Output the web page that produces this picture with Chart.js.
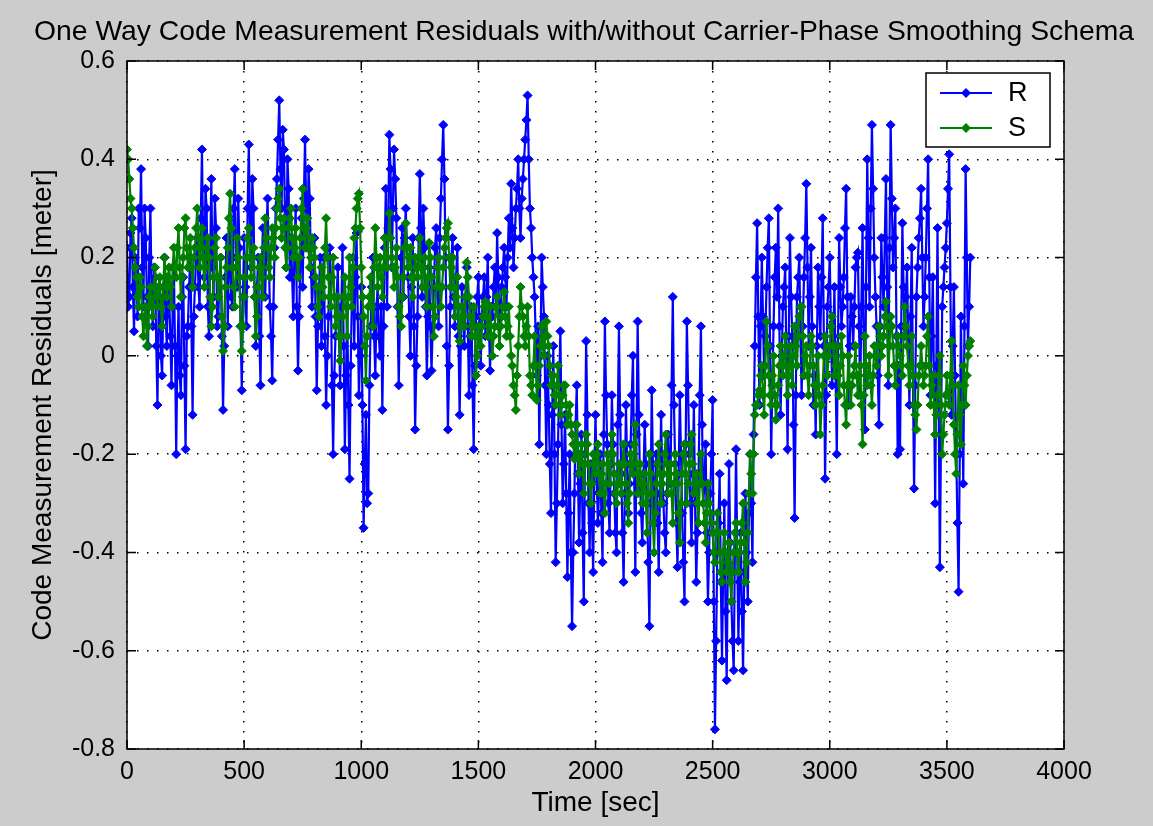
<!DOCTYPE html>
<html>
<head>
<meta charset="utf-8">
<script src="https://cdn.jsdelivr.net/npm/chart.js@4/dist/chart.umd.min.js"></script>
<style>
  html, body { margin: 0; padding: 0; background: #cccccc; }
  canvas { display: block; }
</style>
</head>
<body>
<canvas id="myChart" width="1153" height="826"></canvas>
<script>
// sampling step of both series, seconds
var step = 10;

// R: raw code residuals, one value every 10 s from t = 0
var rValues = [
  0.22, 0.12, 0.28, 0.05, 0.18, 0.30, 0.38, 0.10, 0.24, 0.02,
  0.30, 0.06, 0.16, -0.10, 0.14, -0.04, 0.20, 0.02, 0.12, -0.06,
  0.18, -0.20, 0.10, -0.08, 0.16, -0.19, 0.06, 0.20, -0.12, 0.14,
  0.24, 0.10, 0.42, 0.16, 0.30, 0.04, 0.36, 0.12, 0.26, 0.08,
  0.20, -0.11, 0.16, 0.06, 0.28, 0.10, 0.38, 0.14, 0.22, -0.07,
  0.24, 0.06, 0.43, 0.18, 0.30, 0.02, 0.20, -0.06, 0.26, 0.12,
  0.32, 0.10, -0.05, 0.22, 0.36, 0.52, 0.30, 0.42, 0.18, 0.34,
  0.24, 0.08, 0.30, -0.03, 0.20, 0.14, 0.44, 0.22, 0.32, 0.10,
  0.24, -0.07, 0.14, 0.02, 0.20, -0.10, 0.08, 0.16, -0.20, 0.04,
  0.18, -0.06, 0.22, -0.19, 0.10, -0.25, 0.12, 0.02, 0.25, -0.08,
  0.14, -0.35, -0.12, -0.28, 0.06, 0.20, -0.04, 0.14, 0.00, -0.11,
  0.22, 0.10, 0.45, 0.18, 0.42, 0.28, -0.06, 0.20, 0.12, 0.30,
  0.16, 0.00, 0.24, -0.15, 0.08, 0.37, 0.12, 0.22, -0.04, 0.18,
  -0.03, 0.14, 0.26, 0.06, 0.32, 0.47, 0.20, -0.15, 0.10, 0.24,
  0.06, 0.22, -0.12, 0.14, 0.02, 0.18, -0.08, 0.10, -0.19, 0.08,
  0.16, -0.02, 0.12, 0.04, 0.20, -0.03, 0.08, 0.18, 0.25, 0.06,
  0.14, 0.22, 0.10, 0.28, 0.35, 0.18, 0.30, 0.40, 0.24, 0.36,
  0.44, 0.53, 0.30, 0.20, 0.12, -0.04, -0.18, 0.20, 0.08, -0.20,
  -0.10, -0.32, 0.02, -0.42, -0.18, 0.05, -0.30, -0.12, -0.45, -0.20,
  -0.55, -0.28, -0.06, -0.38, -0.16, -0.50, 0.03, -0.30, -0.22, -0.44,
  -0.12, -0.34, -0.20, -0.42, 0.07, -0.18, -0.36, -0.08, -0.28, -0.40,
  0.06, -0.24, -0.46, -0.10, -0.32, -0.18, 0.00, -0.44, 0.07, -0.26,
  -0.38, -0.14, -0.30, -0.55, -0.07, -0.34, -0.20, -0.44, -0.12, -0.30,
  -0.40, -0.16, -0.26, 0.12, -0.22, -0.43, -0.08, -0.32, -0.50, 0.07,
  -0.20, -0.38, -0.10, -0.46, -0.24, 0.06, -0.30, -0.18, -0.50, -0.28,
  -0.09, -0.76, -0.40, -0.24, -0.62, -0.30, -0.66, -0.22, -0.50, -0.64,
  -0.19, -0.58, -0.36, -0.64, -0.28, -0.50, -0.20, -0.42, 0.02, 0.27,
  -0.10, 0.20, -0.04, 0.14, 0.28, -0.20, 0.06, 0.22, 0.30, -0.12,
  0.10, 0.18, -0.19, 0.24, 0.04, -0.33, 0.12, 0.20, -0.08, 0.16,
  0.35, 0.02, 0.22, -0.10, -0.16, 0.18, 0.04, 0.28, -0.25, 0.10,
  0.20, -0.06, 0.14, -0.20, 0.24, 0.06, 0.16, 0.34, -0.10, 0.12,
  0.02, 0.18, 0.21, -0.08, 0.26, -0.15, 0.40, 0.10, 0.47, 0.20,
  0.06, -0.14, 0.24, 0.10, 0.36, -0.06, 0.47, 0.18, 0.30, -0.20,
  -0.19, 0.27, 0.04, 0.18, -0.10, 0.22, -0.27, 0.12, 0.24, 0.34,
  0.06, 0.20, 0.40, -0.08, 0.16, -0.30, 0.26, -0.43, 0.10, 0.18,
  0.27, 0.41, -0.12, 0.14, -0.20, -0.48, 0.08, -0.26, 0.38, 0.02,
  0.20
];

// R samples in between, at t = 5, 15, 25 ...
var rMidValues = [
  0.10, 0.25, 0.14, 0.20, 0.08, 0.26, 0.18, 0.30, 0.12, 0.20,
  0.12, 0.18, 0.02, 0.10, 0.00, 0.12, 0.08, 0.16, 0.04, 0.10,
  0.02, 0.00, -0.04, 0.12, -0.02, 0.04, 0.14, 0.06, 0.08, 0.20,
  0.14, 0.28, 0.22, 0.34, 0.10, 0.20, 0.18, 0.32, 0.06, 0.16,
  0.04, 0.02, 0.24, 0.18, 0.12, 0.30, 0.20, 0.32, 0.06, 0.12,
  0.14, 0.30, 0.26, 0.36, 0.12, 0.14, 0.04, 0.16, 0.18, 0.24,
  0.20, 0.04, 0.10, 0.30, 0.44, 0.38, 0.46, 0.26, 0.40, 0.16,
  0.16, 0.22, 0.10, 0.08, 0.28, 0.32, 0.30, 0.38, 0.18, 0.16,
  0.08, 0.06, 0.20, 0.12, 0.04, 0.00, 0.22, -0.06, -0.04, 0.12,
  0.04, 0.10, 0.02, -0.04, -0.10, -0.02, 0.20, 0.16, 0.08, 0.00,
  -0.10, -0.22, -0.30, -0.06, 0.14, 0.04, 0.10, 0.04, 0.10, 0.06,
  0.34, 0.26, 0.38, 0.30, 0.36, 0.10, 0.08, 0.26, 0.24, 0.22,
  0.08, 0.14, 0.06, -0.02, 0.24, 0.26, 0.30, 0.10, 0.08, 0.06,
  0.06, 0.22, 0.18, 0.24, 0.40, 0.36, 0.02, -0.02, 0.20, 0.12,
  0.16, 0.04, 0.02, 0.08, 0.12, 0.06, 0.04, -0.06, -0.02, 0.12,
  0.06, 0.08, 0.16, 0.12, 0.06, 0.10, 0.14, 0.10, 0.16, 0.10,
  0.18, 0.16, 0.20, 0.22, 0.26, 0.24, 0.34, 0.30, 0.32, 0.40,
  0.48, 0.40, 0.26, 0.16, 0.04, 0.06, 0.00, 0.14, -0.06, 0.00,
  -0.22, -0.12, -0.20, -0.30, -0.06, -0.14, -0.22, -0.28, -0.32, -0.40,
  -0.40, -0.14, -0.24, -0.26, -0.36, -0.20, -0.12, -0.40, -0.34, -0.24,
  -0.24, -0.28, -0.32, -0.16, -0.08, -0.30, -0.22, -0.18, -0.36, -0.14,
  -0.12, -0.36, -0.28, -0.22, -0.26, -0.08, -0.24, -0.16, -0.12, -0.32,
  -0.24, -0.22, -0.42, -0.30, -0.22, -0.26, -0.34, -0.28, -0.24, -0.36,
  -0.28, -0.22, -0.06, -0.10, -0.34, -0.24, -0.20, -0.42, -0.18, -0.06,
  -0.30, -0.24, -0.30, -0.36, -0.08, -0.14, -0.26, -0.36, -0.40, -0.20,
  -0.50, -0.58, -0.34, -0.46, -0.44, -0.52, -0.42, -0.38, -0.58, -0.40,
  -0.40, -0.46, -0.52, -0.44, -0.40, -0.32, -0.30, -0.16, 0.16, 0.08,
  0.06, 0.08, 0.04, 0.22, 0.02, -0.06, 0.16, 0.12, 0.06, 0.00,
  0.14, -0.02, 0.04, 0.12, -0.14, -0.08, 0.16, 0.04, 0.06, 0.24,
  0.18, 0.12, 0.06, -0.04, 0.02, 0.10, 0.16, 0.02, -0.08, 0.14,
  0.06, 0.04, -0.04, 0.02, 0.14, 0.10, 0.26, 0.12, 0.02, 0.08,
  0.10, 0.20, 0.06, 0.10, 0.04, 0.14, 0.24, 0.30, 0.34, 0.12,
  -0.04, 0.06, 0.16, 0.24, 0.14, 0.22, 0.32, 0.24, 0.04, -0.02,
  0.06, 0.14, 0.12, 0.02, 0.08, -0.04, -0.06, 0.18, 0.28, 0.20,
  0.12, 0.30, 0.16, 0.04, -0.06, -0.02, -0.10, -0.16, 0.14, 0.22,
  0.34, 0.14, 0.02, -0.04, -0.34, -0.20, -0.10, 0.06, 0.20, 0.10
];

// S: carrier-phase smoothed residuals, same time stamps
var sValues = [
  0.42, 0.36, 0.30, 0.22, 0.16, 0.10, 0.14, 0.04, 0.10, 0.06,
  0.14, 0.08, 0.18, 0.10, 0.16, 0.06, 0.20, 0.12, 0.18, 0.10,
  0.22, 0.16, 0.26, 0.12, 0.20, 0.28, 0.18, 0.24, 0.14, 0.22,
  0.30, 0.18, 0.26, 0.14, 0.22, 0.20, 0.06, 0.16, 0.24, 0.12,
  0.20, 0.01, 0.14, 0.22, 0.33, 0.18, 0.10, 0.24, 0.16, 0.01,
  0.12, 0.20, 0.26, 0.16, 0.22, 0.04, 0.14, 0.20, 0.12, 0.28,
  0.22, 0.16, 0.26, 0.20, 0.30, 0.34, 0.24, 0.28, 0.18, 0.26,
  0.30, 0.20, 0.26, 0.16, 0.24, 0.34, 0.22, 0.28, 0.18, 0.24,
  0.20, 0.14, 0.08, 0.18, 0.12, 0.28, 0.16, 0.10, 0.20, 0.06,
  0.12, -0.01, 0.08, 0.16, 0.04, 0.20, 0.10, 0.24, 0.30, 0.33,
  0.18, 0.08, -0.05, 0.10, 0.16, 0.06, 0.26, 0.14, 0.20, 0.12,
  0.24, 0.18, 0.29, 0.20, 0.14, 0.22, 0.10, 0.06, 0.16, 0.27,
  0.18, 0.22, 0.12, 0.20, 0.16, 0.24, 0.14, 0.20, 0.10, 0.23,
  0.16, 0.04, 0.14, 0.20, 0.10, 0.18, 0.24, 0.27, 0.14, 0.20,
  0.08, 0.16, 0.03, 0.10, 0.06, 0.19, 0.12, 0.04, 0.10, -0.04,
  0.06, 0.02, 0.08, 0.11, 0.04, 0.10, 0.00, 0.06, 0.12, 0.02,
  0.08, 0.13, 0.04, 0.10, 0.00, -0.06, -0.11, 0.02, 0.14, 0.08,
  0.02, 0.10, -0.04, -0.08, 0.04, -0.09, -0.02, 0.06, 0.00, 0.07,
  0.02, -0.06, -0.04, -0.10, -0.02, -0.12, -0.08, -0.06, -0.14, -0.10,
  -0.16, -0.21, -0.14, -0.24, -0.18, -0.28, -0.16, -0.22, -0.30, -0.20,
  -0.24, -0.18, -0.28, -0.22, -0.32, -0.20, -0.26, -0.16, -0.24, -0.30,
  -0.22, -0.28, -0.18, -0.26, -0.34, -0.20, -0.24, -0.14, -0.28, -0.22,
  -0.30, -0.24, -0.36, -0.20, -0.28, -0.40, -0.26, -0.18, -0.30, -0.24,
  -0.16, -0.28, -0.22, -0.34, -0.20, -0.26, -0.38, -0.24, -0.18, -0.30,
  -0.22, -0.16, -0.28, -0.24, -0.34, -0.20, -0.30, -0.38, -0.26, -0.32,
  -0.36, -0.42, -0.32, -0.40, -0.46, -0.36, -0.44, -0.38, -0.50, -0.40,
  -0.34, -0.44, -0.38, -0.30, -0.46, -0.36, -0.20, -0.28, -0.12, -0.10,
  -0.07, -0.02, -0.12, 0.07, -0.04, -0.10, 0.00, -0.13, -0.06, 0.02,
  -0.04, 0.04, -0.08, 0.02, -0.06, 0.06, -0.02, 0.08, 0.10, -0.04,
  0.02, -0.08, 0.04, -0.02, -0.10, 0.00, -0.16, -0.06, 0.04, -0.04,
  0.02, 0.08, -0.04, 0.02, -0.08, 0.04, -0.06, -0.14, 0.00, -0.10,
  -0.04, 0.02, -0.08, -0.02, -0.18, 0.04, -0.06, 0.00, -0.10, 0.02,
  -0.02, 0.06, 0.00, 0.04, 0.11, -0.04, 0.08, 0.02, -0.06, 0.04,
  0.00, -0.04, 0.10, 0.02, -0.06, 0.04, -0.10, -0.15, -0.04, 0.02,
  -0.06, -0.02, 0.08, -0.10, -0.04, -0.16, -0.08, 0.00, -0.20, -0.12,
  -0.04, -0.10, 0.03, -0.14, -0.24, -0.06, -0.18, -0.02, -0.10, 0.00,
  0.03
];

// S samples in between, at t = 5, 15, 25 ...
var sMidValues = [
  0.40, 0.32, 0.26, 0.18, 0.12, 0.16, 0.08, 0.08, 0.02, 0.12,
  0.10, 0.14, 0.12, 0.14, 0.10, 0.14, 0.16, 0.16, 0.14, 0.18,
  0.18, 0.22, 0.18, 0.16, 0.26, 0.22, 0.20, 0.18, 0.20, 0.26,
  0.24, 0.22, 0.20, 0.18, 0.24, 0.12, 0.10, 0.22, 0.16, 0.16,
  0.08, 0.06, 0.18, 0.28, 0.26, 0.14, 0.18, 0.20, 0.06, 0.06,
  0.16, 0.24, 0.20, 0.20, 0.12, 0.08, 0.18, 0.16, 0.22, 0.24,
  0.18, 0.22, 0.24, 0.26, 0.32, 0.28, 0.26, 0.22, 0.22, 0.28,
  0.24, 0.22, 0.20, 0.20, 0.30, 0.26, 0.26, 0.22, 0.20, 0.22,
  0.16, 0.10, 0.14, 0.14, 0.22, 0.20, 0.12, 0.16, 0.12, 0.08,
  0.04, 0.04, 0.12, 0.10, 0.12, 0.14, 0.18, 0.26, 0.32, 0.26,
  0.12, 0.02, 0.04, 0.12, 0.10, 0.18, 0.20, 0.18, 0.16, 0.18,
  0.20, 0.24, 0.24, 0.18, 0.18, 0.16, 0.08, 0.12, 0.22, 0.22,
  0.20, 0.16, 0.16, 0.18, 0.20, 0.18, 0.18, 0.14, 0.16, 0.20,
  0.10, 0.08, 0.18, 0.14, 0.14, 0.22, 0.26, 0.20, 0.18, 0.14,
  0.12, 0.10, 0.06, 0.08, 0.12, 0.16, 0.08, 0.06, 0.04, 0.00,
  0.04, 0.06, 0.10, 0.08, 0.06, 0.04, 0.04, 0.10, 0.06, 0.06,
  0.10, 0.08, 0.06, 0.04, -0.02, -0.08, -0.04, 0.08, 0.10, 0.04,
  0.06, 0.04, -0.06, -0.02, -0.02, -0.06, 0.02, 0.02, 0.04, 0.04,
  -0.02, -0.04, -0.08, -0.06, -0.08, -0.10, -0.06, -0.10, -0.12, -0.14,
  -0.18, -0.18, -0.20, -0.20, -0.22, -0.22, -0.18, -0.26, -0.26, -0.22,
  -0.20, -0.24, -0.24, -0.28, -0.26, -0.22, -0.20, -0.20, -0.28, -0.26,
  -0.26, -0.22, -0.22, -0.30, -0.28, -0.22, -0.18, -0.22, -0.24, -0.26,
  -0.26, -0.30, -0.28, -0.24, -0.34, -0.32, -0.22, -0.24, -0.26, -0.20,
  -0.22, -0.24, -0.28, -0.26, -0.24, -0.32, -0.30, -0.20, -0.24, -0.26,
  -0.18, -0.22, -0.26, -0.30, -0.26, -0.26, -0.34, -0.32, -0.30, -0.34,
  -0.40, -0.36, -0.36, -0.44, -0.40, -0.40, -0.42, -0.46, -0.44, -0.36,
  -0.40, -0.40, -0.34, -0.38, -0.42, -0.28, -0.24, -0.20, -0.10, -0.08,
  -0.04, -0.08, -0.02, 0.02, -0.08, -0.04, -0.08, -0.10, -0.02, -0.02,
  0.00, -0.02, -0.04, -0.02, 0.00, 0.02, 0.04, 0.10, 0.04, 0.00,
  -0.04, -0.02, 0.02, -0.06, -0.06, -0.08, -0.10, 0.00, 0.00, 0.00,
  0.06, 0.02, -0.02, -0.04, -0.02, 0.00, -0.10, -0.06, -0.06, -0.06,
  -0.02, -0.04, -0.04, -0.10, -0.08, -0.02, -0.04, -0.06, -0.04, 0.00,
  0.02, 0.04, 0.02, 0.08, 0.06, 0.02, 0.06, -0.02, -0.02, 0.02,
  -0.02, 0.04, 0.06, -0.02, -0.02, -0.04, -0.12, -0.10, -0.02, -0.02,
  -0.04, 0.04, -0.02, -0.06, -0.10, -0.12, -0.04, -0.10, -0.16, -0.08,
  -0.08, -0.04, -0.06, -0.20, -0.16, -0.12, -0.10, -0.06, -0.04, 0.02
];

var seriesNames = ["R", "S"];
var seriesColors = ["#0000ff", "#008000"];
var xTicks = [0, 500, 1000, 1500, 2000, 2500, 3000, 3500, 4000];
var yTicks = [-0.8, -0.6, -0.4, -0.2, 0, 0.2, 0.4, 0.6];

// interleave the on-step and half-step samples into {x, y} points
function toPoints(vals, mids) {
  var pts = []
  vals.forEach(function (v, i) {
    pts.push({ x: i * step, y: v })
    if (i < mids.length) pts.push({ x: i * step + step / 2, y: mids[i] })
  })
  return pts
}

var fontName = "'Liberation Sans', Arial, sans-serif";

// gray figure, white axes box, black frame with inner ticks, title, legend
var matlabLook = {
  id: 'matlabLook',
  beforeDraw: function (chart) {
    var ctx = chart.ctx, a = chart.chartArea;
    ctx.save();
    ctx.fillStyle = '#cccccc';
    ctx.fillRect(0, 0, chart.width, chart.height);
    ctx.fillStyle = '#ffffff';
    ctx.fillRect(a.left, a.top, a.right - a.left, a.bottom - a.top);
    ctx.restore();
  },
  afterDraw: function (chart) {
    var ctx = chart.ctx, a = chart.chartArea;
    var xs = chart.scales.x, ys = chart.scales.y;
    ctx.save();
    ctx.strokeStyle = '#000';
    ctx.lineWidth = 1.5;
    ctx.strokeRect(a.left, a.top, a.right - a.left, a.bottom - a.top);
    ctx.beginPath();
    xTicks.forEach(function (t) {
      var px = xs.getPixelForValue(t);
      ctx.moveTo(px, a.bottom); ctx.lineTo(px, a.bottom - 9);
      ctx.moveTo(px, a.top); ctx.lineTo(px, a.top + 9);
    });
    yTicks.forEach(function (t) {
      var py = ys.getPixelForValue(t);
      ctx.moveTo(a.left, py); ctx.lineTo(a.left + 9, py);
      ctx.moveTo(a.right, py); ctx.lineTo(a.right - 9, py);
    });
    ctx.stroke();

    // title
    ctx.fillStyle = '#000';
    ctx.font = "28.3px " + fontName;
    ctx.textAlign = 'center';
    ctx.textBaseline = 'middle';
    ctx.fillText('One Way Code Measurement Residuals with/without Carrier-Phase Smoothing Schema', 584, 32);

    // legend
    var bx = 926, by = 73, bw = 124, bh = 74;
    ctx.fillStyle = '#fff';
    ctx.fillRect(bx, by, bw, bh);
    ctx.strokeStyle = '#000';
    ctx.lineWidth = 1.5;
    ctx.strokeRect(bx, by, bw, bh);
    ctx.font = "27px " + fontName;
    seriesNames.forEach(function (name, i) {
      var ly = by + 20 + i * 35;
      ctx.strokeStyle = seriesColors[i];
      ctx.lineWidth = 2;
      ctx.beginPath();
      ctx.moveTo(940, ly); ctx.lineTo(992, ly);
      ctx.stroke();
      ctx.fillStyle = seriesColors[i];
      ctx.beginPath();
      ctx.moveTo(966, ly - 5); ctx.lineTo(971, ly); ctx.lineTo(966, ly + 5); ctx.lineTo(961, ly);
      ctx.closePath();
      ctx.fill();
      ctx.fillStyle = '#000';
      ctx.textAlign = 'left';
      ctx.fillText(name, 1008, ly + 1);
    });
    ctx.restore();
  }
};

var gridDots = {
  display: true,
  color: '#000',
  lineWidth: 1.5,
  drawTicks: false
};

new Chart("myChart", {
  type: "line",
  data: {
    datasets: [{
      label: seriesNames[0],
      data: toPoints(rValues, rMidValues),
      borderColor: seriesColors[0],
      backgroundColor: seriesColors[0],
      borderWidth: 2.2,
      pointStyle: 'rectRot',
      pointRadius: 4.5,
      pointBorderWidth: 1,
      tension: 0,
      order: 2
    }, {
      label: seriesNames[1],
      data: toPoints(sValues, sMidValues),
      borderColor: seriesColors[1],
      backgroundColor: seriesColors[1],
      borderWidth: 2.2,
      pointStyle: 'rectRot',
      pointRadius: 4.5,
      pointBorderWidth: 1,
      tension: 0,
      order: 1
    }]
  },
  options: {
    responsive: false,
    animation: false,
    layout: { padding: { left: 0, top: 61, right: 89, bottom: 0 } },
    plugins: {
      legend: { display: false },
      title: { display: false },
      tooltip: { enabled: false }
    },
    scales: {
      x: {
        type: 'linear',
        min: 0,
        max: 4000,
        afterFit: function (s) { s.height = 77 },
        afterBuildTicks: function (s) { s.ticks = xTicks.map(function (v) { return { value: v } }) },
        border: { display: false, dash: [1.5, 8.5] },
        grid: gridDots,
        ticks: {
          color: '#000',
          padding: 8,
          maxRotation: 0,
          font: { family: fontName, size: 25 },
          callback: function (v) { return String(v) }
        },
        title: {
          display: true,
          text: 'Time [sec]',
          color: '#000',
          padding: { top: 0, bottom: 6 },
          font: { family: fontName, size: 28 }
        }
      },
      y: {
        min: -0.8,
        max: 0.6,
        afterFit: function (s) { s.width = 127 },
        afterBuildTicks: function (s) { s.ticks = yTicks.map(function (v) { return { value: v } }) },
        border: { display: false, dash: [1.5, 8.5] },
        grid: gridDots,
        ticks: {
          color: '#000',
          padding: 12,
          font: { family: fontName, size: 25 },
          callback: function (v) { return Math.abs(v) < 1e-9 ? '0' : v.toFixed(1) }
        },
        title: {
          display: true,
          text: 'Code Measurement Residuals [meter]',
          color: '#000',
          padding: { top: 26, bottom: 0 },
          font: { family: fontName, size: 28 }
        }
      }
    }
  },
  plugins: [matlabLook]
});
</script>
</body>
</html>
